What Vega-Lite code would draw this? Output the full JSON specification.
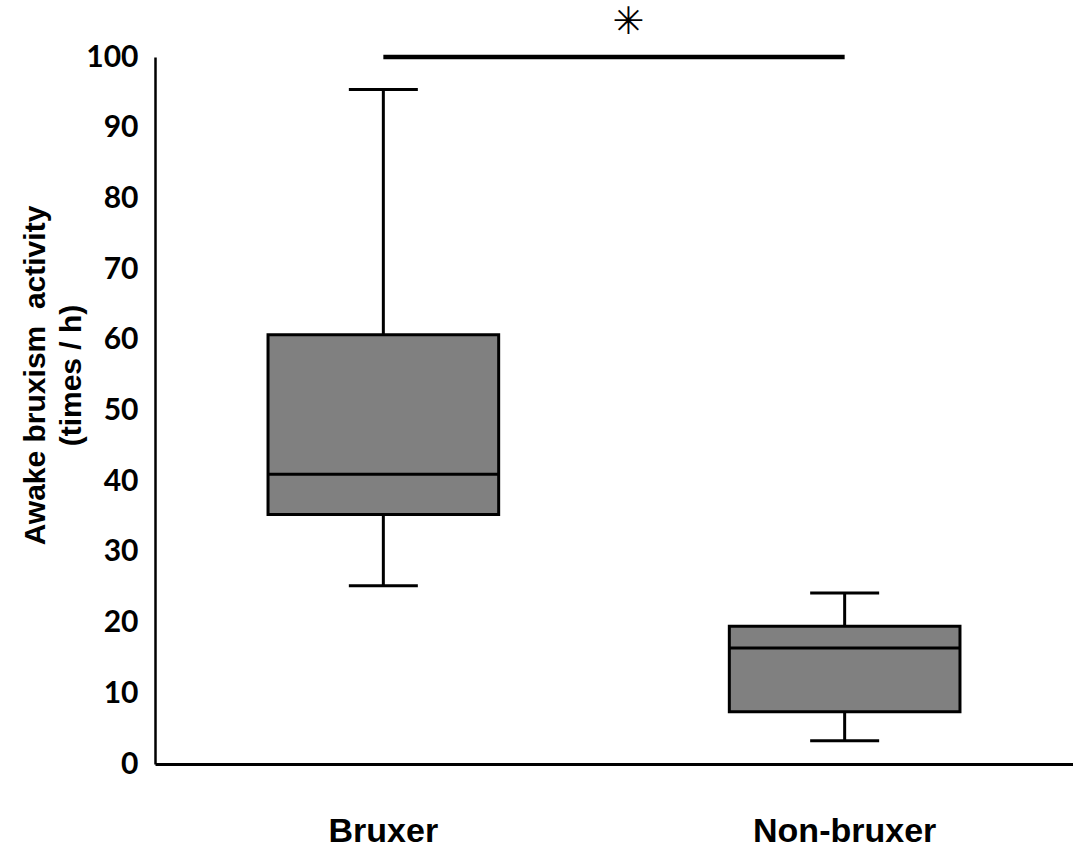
{
  "$schema": "https://vega.github.io/schema/vega-lite/v6.json",
  "autosize": {"type": "none"},
  "padding": {"left": 155, "top": 57, "right": 0, "bottom": 85},
  "width": 918,
  "height": 707,
  "background": "white",
  "config": {"view": {"stroke": null}},
  "datasets": {
    "boxes": [
      {"group": "Bruxer", "min": 25.2, "q1": 35.3, "median": 41.0, "q3": 60.7, "max": 95.4},
      {"group": "Non-bruxer", "min": 3.3, "q1": 7.4, "median": 16.4, "q3": 19.5, "max": 24.2}
    ],
    "sig": [
      {"from": "Bruxer", "to": "Non-bruxer", "y": 100, "label": "✳", "ylabel": 104.8}
    ]
  },
  "encoding": {
    "x": {
      "field": "group",
      "type": "nominal",
      "sort": ["Bruxer", "Non-bruxer"],
      "scale": {"domain": ["Bruxer", "Non-bruxer"], "paddingInner": 0.5, "paddingOuter": 0.245},
      "axis": {
        "title": null,
        "labelAngle": 0,
        "labelFont": "Liberation Sans",
        "labelFontWeight": "bold",
        "labelFontSize": 34,
        "labelColor": "black",
        "labelBaseline": "alphabetic",
        "labelPadding": 77,
        "labelLimit": 0,
        "ticks": false,
        "tickSize": 0,
        "domainColor": "black",
        "domainWidth": 3,
        "grid": false
      }
    }
  },
  "layer": [
    {
      "data": {"name": "boxes"},
      "mark": {"type": "rule", "stroke": "black", "strokeWidth": 3},
      "encoding": {
        "y": {
          "field": "max",
          "type": "quantitative",
          "scale": {"domain": [0, 100], "nice": false, "zero": true},
          "axis": {
            "values": [0, 10, 20, 30, 40, 50, 60, 70, 80, 90, 100],
            "title": ["Awake bruxism\u00a0 activity", "(times / h)"],
            "titleFont": "Liberation Sans",
            "titleFontWeight": "bold",
            "titleFontSize": 30,
            "titleColor": "black",
            "titleAngle": -90,
            "titleAlign": "center",
            "titleBaseline": "alphabetic",
            "titleLineHeight": 36,
            "titleLimit": 0,
            "titleX": -111,
            "titleY": 318,
            "labelFont": "Lato",
            "labelFontWeight": "bold",
            "labelFontSize": 30,
            "labelColor": "black",
            "labelPadding": 17,
            "ticks": false,
            "tickSize": 0,
            "grid": false,
            "domainColor": "black",
            "domainWidth": 2.5
          }
        },
        "y2": {"field": "min"}
      }
    },
    {
      "data": {"name": "boxes"},
      "mark": {"type": "bar", "fill": "#808080", "stroke": "black", "strokeWidth": 3},
      "encoding": {
        "y": {"field": "q1", "type": "quantitative"},
        "y2": {"field": "q3"}
      }
    },
    {
      "data": {"name": "boxes"},
      "mark": {"type": "tick", "color": "black", "size": 230, "thickness": 3, "opacity": 1},
      "encoding": {"y": {"field": "median", "type": "quantitative"}}
    },
    {
      "data": {"name": "boxes"},
      "mark": {"type": "tick", "color": "black", "size": 69, "thickness": 3, "opacity": 1},
      "encoding": {"y": {"field": "max", "type": "quantitative"}}
    },
    {
      "data": {"name": "boxes"},
      "mark": {"type": "tick", "color": "black", "size": 69, "thickness": 3, "opacity": 1},
      "encoding": {"y": {"field": "min", "type": "quantitative"}}
    },
    {
      "data": {"name": "sig"},
      "mark": {"type": "rule", "stroke": "black", "strokeWidth": 4.5},
      "encoding": {
        "x": {"field": "from", "type": "nominal"},
        "x2": {"field": "to"},
        "y": {"field": "y", "type": "quantitative"}
      }
    },
    {
      "data": {"name": "sig"},
      "mark": {"type": "text", "font": "DejaVu Sans", "fontSize": 38, "color": "black", "baseline": "middle", "align": "center", "dx": 245},
      "encoding": {
        "x": {"field": "from", "type": "nominal"},
        "y": {"field": "ylabel", "type": "quantitative"},
        "text": {"field": "label"}
      }
    }
  ]
}
